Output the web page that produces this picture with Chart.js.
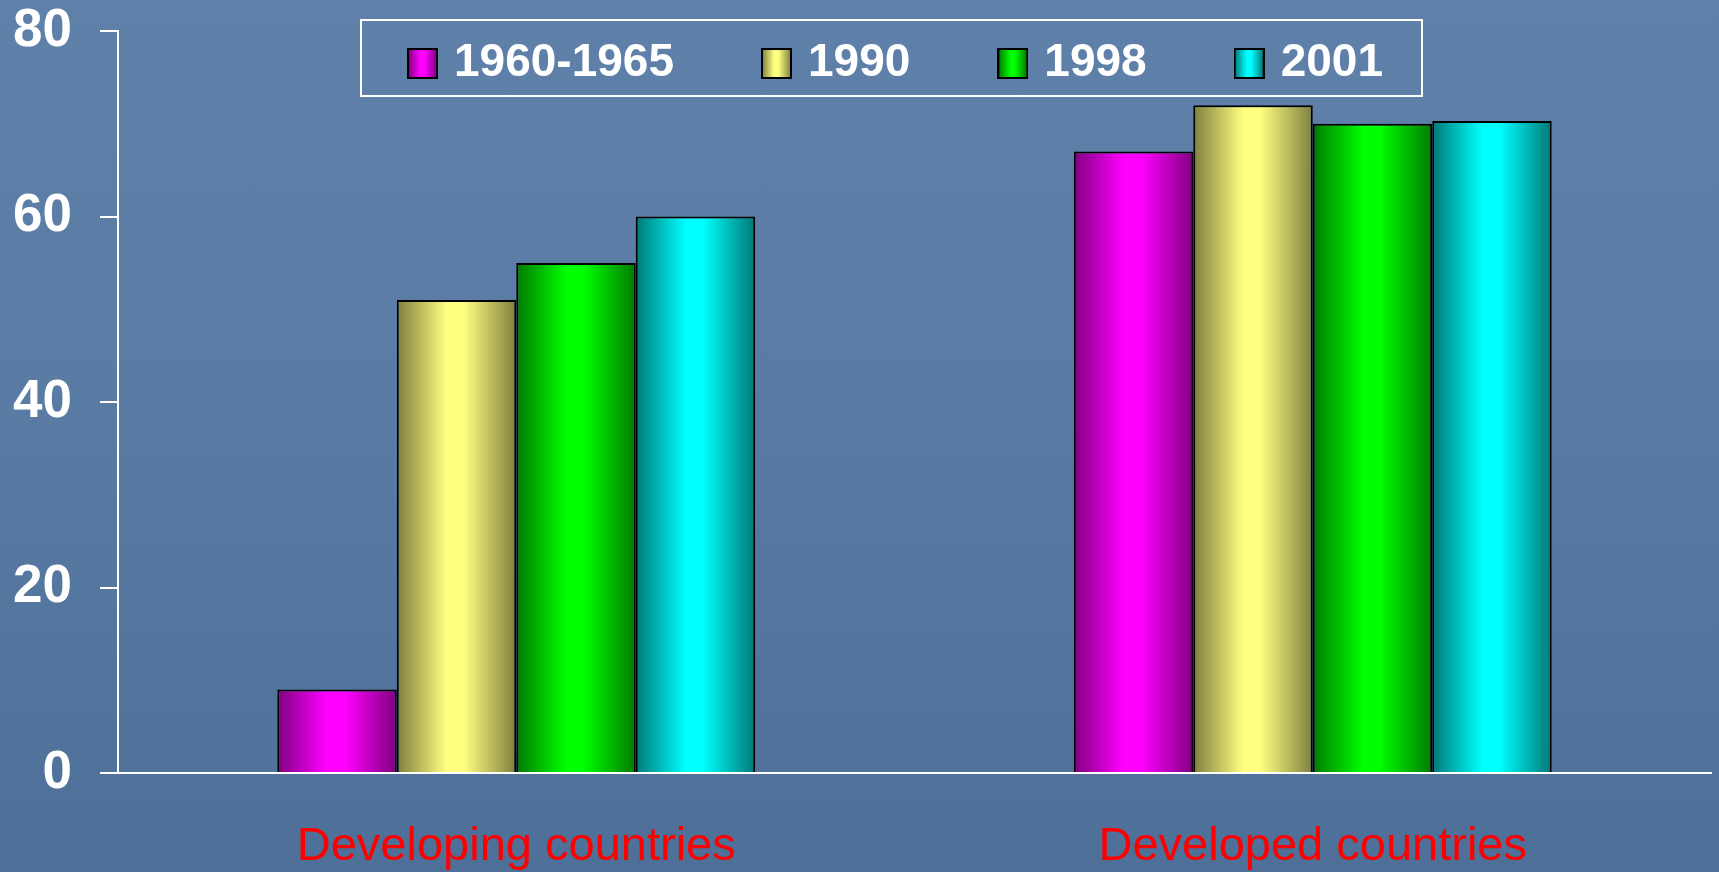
<!DOCTYPE html>
<html>
<head>
<meta charset="utf-8">
<script src="https://cdn.jsdelivr.net/npm/chart.js@4.4.1/dist/chart.umd.min.js"></script>
<style>
html, body { margin: 0; padding: 0; width: 1719px; height: 872px; overflow: hidden; }
body { background: linear-gradient(180deg, #5f80a8 0%, #5a7ba3 45%, #4e6f97 100%); }
canvas { display: block; }
</style>
</head>
<body>
<canvas id="c" width="1719" height="872"></canvas>
<script>
// ---- data ----
const categories = ['Developing countries', 'Developed countries'];
const seriesLabels = ['1960-1965', '1990', '1998', '2001'];
const values1960 = [9, 67];
const values1990 = [51, 72];
const values1998 = [55, 70];
const values2001 = [60, 70.3];
const yTickValues = [0, 20, 40, 60, 80];

// ---- styles ----
const palettes = [
  { dark: '#800080', light: '#ff00ff' },
  { dark: '#7f7f3f', light: '#ffff80' },
  { dark: '#007a00', light: '#00ff00' },
  { dark: '#007878', light: '#00ffff' }
];
const FRAME = { left: 361, top: 20, width: 1061, height: 76 };
const LEGEND_FONT = 46;
const LEGEND_PAD = 94;
const LEGEND_SHIFT_X = 7;
const LEGEND_SHIFT_Y = 4;

function addStops(g, p) {
  g.addColorStop(0, p.dark);
  g.addColorStop(0.42, p.light);
  g.addColorStop(0.56, p.light);
  g.addColorStop(1, p.dark);
}

function swatch(p) {
  const c = document.createElement('canvas');
  c.width = 31; c.height = 31;
  const x = c.getContext('2d');
  const g = x.createLinearGradient(1, 0, 30, 0);
  addStops(g, p);
  x.fillStyle = g;
  x.fillRect(1, 1, 29, 29);
  x.strokeStyle = '#000';
  x.lineWidth = 2;
  x.strokeRect(1, 1, 29, 29);
  return c;
}
const swatches = palettes.map(swatch);

const barShading = {
  id: 'barShading',
  beforeDatasetsDraw(chart) {
    chart.data.datasets.forEach((ds, di) => {
      const meta = chart.getDatasetMeta(di);
      const p = palettes[di];
      meta.data.forEach(bar => {
        const { x, width } = bar.getProps(['x', 'width'], true);
        const g = chart.ctx.createLinearGradient(x - width / 2, 0, x + width / 2, 0);
        addStops(g, p);
        bar.options = Object.assign({}, bar.options, { backgroundColor: g });
      });
    });
  }
};

const legendPlacer = {
  id: 'legendPlacer',
  afterLayout(chart) {
    const lg = chart.legend;
    if (!lg) return;
    lg.left = FRAME.left - 300 + LEGEND_SHIFT_X;
    lg.right = FRAME.left + FRAME.width + 300 + LEGEND_SHIFT_X;
    lg.width = lg.right - lg.left;
    const cy = FRAME.top + FRAME.height / 2 + 1.5 + LEGEND_SHIFT_Y;
    lg.top = cy - LEGEND_PAD - LEGEND_FONT / 2;
    lg.height = 2 * LEGEND_PAD + LEGEND_FONT;
    lg.bottom = lg.top + lg.height;
  },
  afterDraw(chart) {
    const ctx = chart.ctx;
    ctx.save();
    ctx.strokeStyle = '#ffffff';
    ctx.lineWidth = 2;
    ctx.strokeRect(FRAME.left, FRAME.top, FRAME.width, FRAME.height);
    ctx.restore();
  }
};

Chart.defaults.font.family = "'Liberation Sans', Arial, Helvetica, sans-serif";

const seriesValues = [values1960, values1990, values1998, values2001];

new Chart(document.getElementById('c'), {
  type: 'bar',
  data: {
    labels: categories,
    datasets: seriesLabels.map((lab, i) => ({
      label: lab,
      data: seriesValues[i],
      backgroundColor: palettes[i].light,
      borderColor: '#000000',
      borderWidth: 2,
      categoryPercentage: 0.6,
      barPercentage: 1.0
    }))
  },
  options: {
    responsive: false,
    animation: false,
    layout: { padding: { left: 13, right: 8, top: 30, bottom: 0 } },
    plugins: {
      tooltip: { enabled: false },
      legend: {
        display: true,
        position: 'top',
        align: 'center',
        maxHeight: 1,
        labels: {
          color: '#ffffff',
          font: { size: LEGEND_FONT, weight: 'bold' },
          usePointStyle: true,
          boxWidth: 17,
          padding: LEGEND_PAD,
          generateLabels(chart) {
            const items = Chart.defaults.plugins.legend.labels.generateLabels(chart);
            return items.map(it => Object.assign(it, { pointStyle: swatches[it.datasetIndex] }));
          }
        }
      }
    },
    scales: {
      x: {
        grid: { display: false, drawTicks: false, tickLength: 0 },
        border: { display: true, color: '#ffffff', width: 2 },
        ticks: {
          color: '#ff0000',
          font: { size: 47 },
          padding: 46,
          maxRotation: 0,
          autoSkip: false
        },
        afterFit(scale) { scale.height = 99; }
      },
      y: {
        min: 0,
        max: 80,
        afterBuildTicks(scale) { scale.ticks = yTickValues.map(v => ({ value: v })); },
        grid: {
          display: true,
          drawOnChartArea: false,
          drawTicks: true,
          tickLength: 18,
          color: '#ffffff',
          lineWidth: 2
        },
        border: { display: true, color: '#ffffff', width: 2 },
        ticks: {
          color: '#ffffff',
          font: { size: 53, weight: 'bold' },
          padding: 28
        },
        afterFit(scale) { scale.width = 105; scale.paddingTop = 0; scale.paddingBottom = 0; }
      }
    }
  },
  plugins: [barShading, legendPlacer]
});
</script>
</body>
</html>
